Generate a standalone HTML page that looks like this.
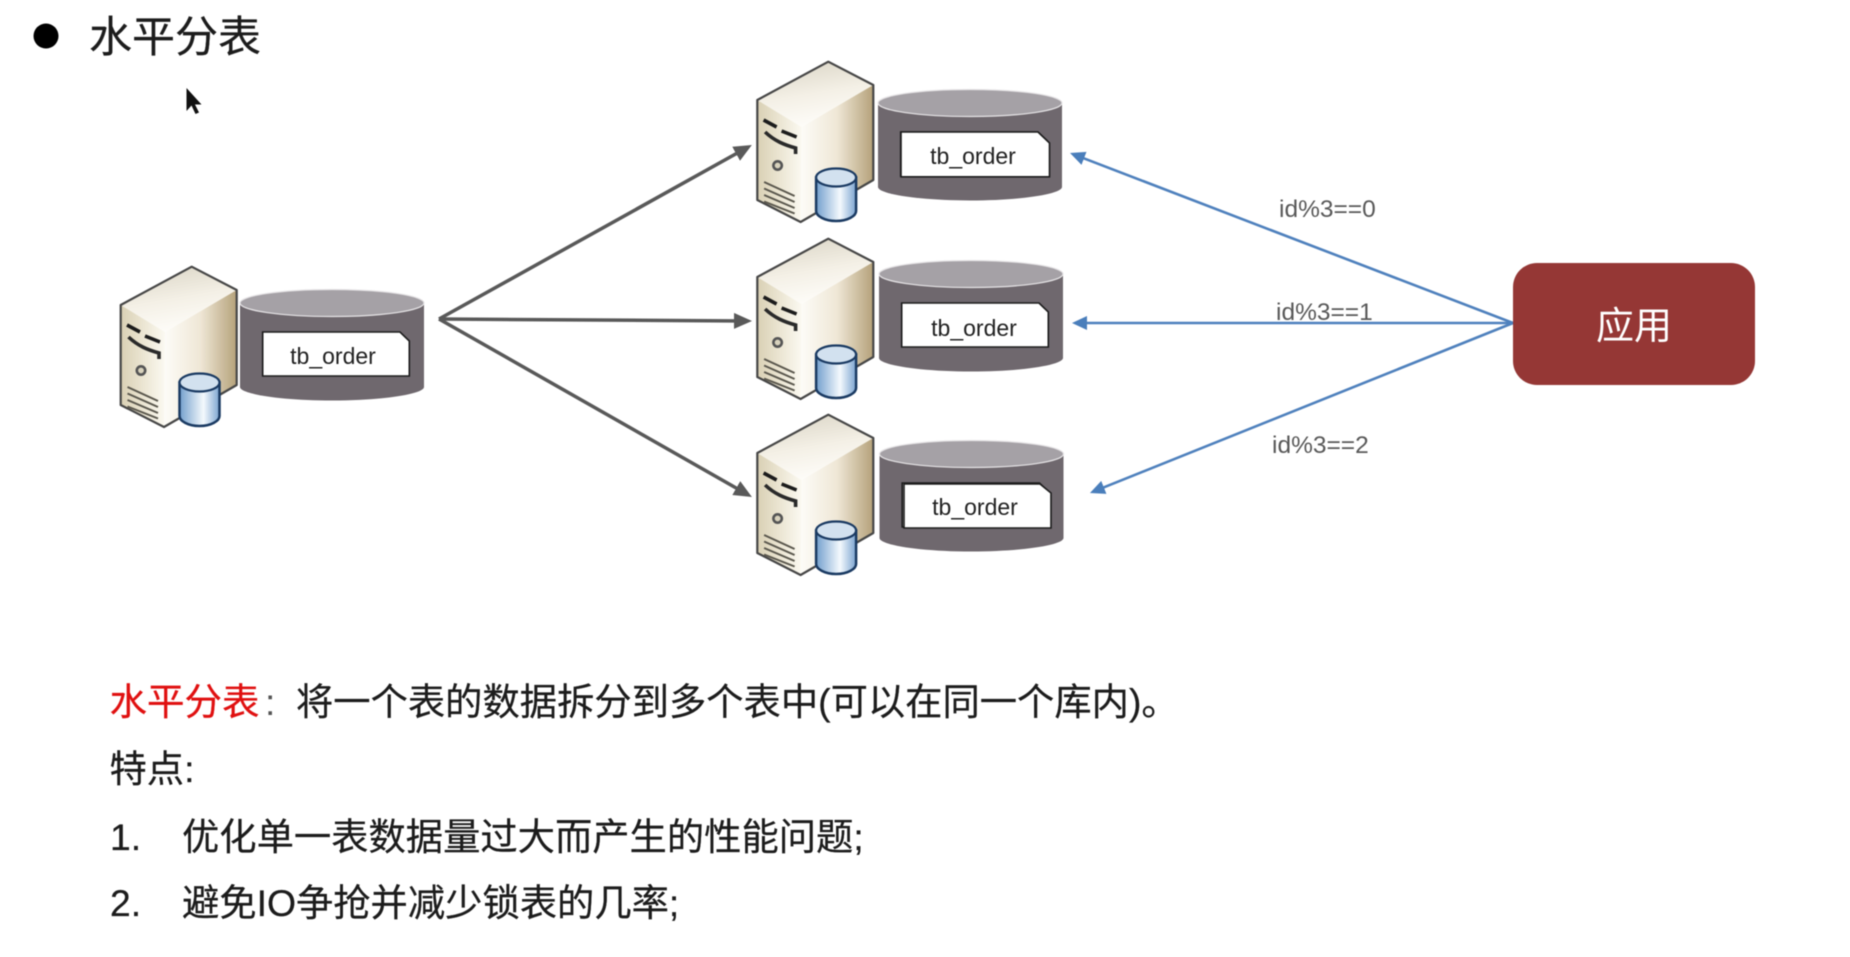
<!DOCTYPE html>
<html lang="zh">
<head>
<meta charset="utf-8">
<title>水平分表</title>
<style>
html,body{margin:0;padding:0;background:#fff;width:1850px;height:957px;overflow:hidden}
svg{display:block;filter:blur(.5px)}
.cjk{font-family:"Liberation Sans","Noto Sans CJK SC",sans-serif}
.lab{font-family:"Liberation Sans","Noto Sans CJK SC",sans-serif;font-size:24.500px;fill:#595959}
.tb{font-family:"Liberation Sans",sans-serif;font-size:23px;fill:#222;text-anchor:middle}
.body{font-family:"Liberation Sans","Noto Sans CJK SC",sans-serif;font-size:37.300px;fill:#1c1c1c;stroke:#1c1c1c;stroke-width:.25px}
</style>
</head>
<body>
<svg width="1850" height="957" viewBox="0 0 1850 957" xmlns="http://www.w3.org/2000/svg">
<defs>
<linearGradient id="gTop" x1="0.3" y1="0" x2="0.6" y2="1"><stop offset="0" stop-color="#dcd7c8"/><stop offset="0.5" stop-color="#f4f0e6"/><stop offset="1" stop-color="#fffefb"/></linearGradient>
<linearGradient id="gRight" x1="0" y1="0" x2="1" y2="0"><stop offset="0" stop-color="#fdfcf8"/><stop offset="0.5" stop-color="#efe7d6"/><stop offset="1" stop-color="#b5a27a"/></linearGradient>
<linearGradient id="gFront" x1="0" y1="0" x2="1" y2="0"><stop offset="0" stop-color="#d9d0b4"/><stop offset="0.5" stop-color="#ebe5d2"/><stop offset="1" stop-color="#fbf9f1"/></linearGradient>
<linearGradient id="gCyl" x1="0" y1="0" x2="1" y2="0"><stop offset="0" stop-color="#739fcd"/><stop offset="0.6" stop-color="#f4f9fd"/><stop offset="1" stop-color="#7ba4d0"/></linearGradient>
<marker id="mGray" markerUnits="userSpaceOnUse" markerWidth="20" markerHeight="18" refX="12" refY="8" orient="auto"><path d="M0 0L18 8L0 16Z" fill="#595959"/></marker>
<marker id="mBlue" markerUnits="userSpaceOnUse" markerWidth="20" markerHeight="16" refX="10" refY="7" orient="auto"><path d="M0 0L15 7L0 14Z" fill="#4a7ebb"/></marker>
<g id="server">
  <path d="M120.7 305L191.7 266.7L236.7 290L165 332Z" fill="url(#gTop)"/>
  <path d="M165 332L236.7 290V385L164 427Z" fill="url(#gRight)"/>
  <path d="M120.700 305L165 332L164 427L120.700 405Z" fill="url(#gFront)"/>
  <path d="M120.700 305L191.700 266.700L236.700 290V385L164 427L120.700 405Z" fill="none" stroke="#474747" stroke-width="2.200" stroke-linejoin="round"/>
  <path d="M127 325L140 332M145 336L160 342" stroke="#1c1c1c" stroke-width="3.600" fill="none"/>
  <path d="M128.500 337C138 346 148 350 159 353V359" stroke="#2a2a2a" stroke-width="3.600" fill="none"/>
  <circle cx="141" cy="370.500" r="4.200" fill="#d8d2bd" stroke="#555" stroke-width="2.600"/>
  <path d="M127.500 387L158 401M127.500 393.500L158 407M127.500 400L158 413M127.500 406.500L158 418.500" stroke="#5a574d" stroke-width="2" fill="none"/>
  <path d="M179.500 382.500V416C179.500 421 188 426 199.500 426S219.500 421 219.500 416V382.500Z" fill="url(#gCyl)" stroke="#1a3a62" stroke-width="2.500"/>
  <ellipse cx="199.500" cy="382.500" rx="20" ry="9" fill="#d2e1ef" stroke="#1a3a62" stroke-width="2.200"/>
</g>
<g id="drum">
  <path d="M240 303V387C240 394 281 400.500 332 400.500S424 394 424 387V303Z" fill="#6f686e"/>
  <ellipse cx="332" cy="303" rx="92" ry="13.500" fill="#a5a1a6" stroke="#e6e4e6" stroke-width="1.200"/>
  <path d="M262.700 332H400L409.300 341V376H262.700Z" fill="#fff" stroke="#1c1c1c" stroke-width="1.600"/>
</g>
</defs>

<rect width="1850" height="957" fill="#fff"/>

<!-- title -->
<circle cx="46" cy="36" r="12.500" fill="#000"/>
<text x="89" y="52" class="cjk" font-size="43" fill="#1c1c1c" stroke="#1c1c1c" stroke-width=".25">水平分表</text>
<path d="M186.500 88V111L191.500 105.500L195.500 114L199 112.500L195 104.500H201.500Z" fill="#111"/>

<!-- servers and drums -->
<use href="#server"/>
<use href="#drum"/>
<text x="333" y="364" class="tb">tb_order</text>

<use href="#server" transform="translate(636.600,-205)"/>
<use href="#drum" transform="translate(638,-200)"/>
<path d="M901 132H1038L1049.500 143V176.800H901Z" fill="#fff" stroke="#1c1c1c" stroke-width="1.600"/>
<text x="973" y="164" class="tb">tb_order</text>

<use href="#server" transform="translate(636.600,-28)"/>
<use href="#drum" transform="translate(639,-29)"/>
<text x="974" y="336" class="tb">tb_order</text>

<use href="#server" transform="translate(636.600,148)"/>
<use href="#drum" transform="translate(639.500,151)"/>
<path d="M904 484H1040L1051 493V528H904Z" fill="#fff" stroke="#1c1c1c" stroke-width="1.600"/>
<text x="975" y="515" class="tb">tb_order</text>

<!-- gray arrows -->
<g stroke="#595959" stroke-width="3.500" fill="none">
  <line x1="439" y1="319" x2="746.600" y2="147.900" marker-end="url(#mGray)"/>
  <line x1="439" y1="319" x2="746" y2="321" marker-end="url(#mGray)"/>
  <line x1="439" y1="319" x2="746.700" y2="494" marker-end="url(#mGray)"/>
</g>

<!-- blue arrows -->
<g stroke="#4f81bd" stroke-width="2.600" fill="none">
  <line x1="1513" y1="323" x2="1074.700" y2="154.800" marker-end="url(#mBlue)"/>
  <line x1="1513" y1="323" x2="1077" y2="323" marker-end="url(#mBlue)"/>
  <line x1="1513" y1="323" x2="1094.600" y2="491.100" marker-end="url(#mBlue)"/>
</g>
<text x="1279" y="217" class="lab">id%3==0</text>
<text x="1276" y="320" class="lab">id%3==1</text>
<text x="1272" y="453" class="lab">id%3==2</text>

<!-- app box -->
<rect x="1513" y="263" width="242" height="122" rx="24" ry="24" fill="#953735"/>
<text x="1634" y="339" text-anchor="middle" class="cjk" font-size="38" fill="#fff">应用</text>

<!-- body text -->
<text x="109.500" y="715" class="body" style="fill:#e01010;stroke:#e01010;font-size:37.500px">水平分表</text>
<text x="265" y="715" class="body" style="fill:#555;stroke:none">:</text>
<text x="296" y="715" class="body">将一个表的数据拆分到多个表中(可以在同一个库内)。</text>
<text x="109.500" y="782" class="body">特点:</text>
<text x="110" y="850" class="body">1.</text>
<text x="182" y="850" class="body">优化单一表数据量过大而产生的性能问题;</text>
<text x="110" y="916" class="body">2.</text>
<text x="182" y="916" class="body">避免IO争抢并减少锁表的几率;</text>
</svg>
</body>
</html>
